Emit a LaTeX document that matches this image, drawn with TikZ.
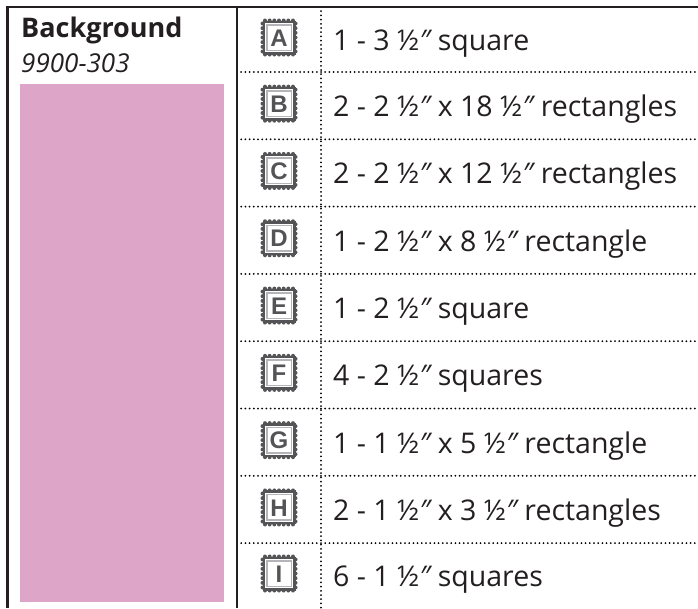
\documentclass[tikz,border=0pt]{standalone}
\usepackage{fontspec}
\setmainfont{Open Sans}
\newfontfamily\badgefont{Liberation Sans}
\newcommand\dprm{{\itshape ″}}
\definecolor{pinkfill}{HTML}{DDA5C7}
\definecolor{stampdark}{HTML}{545457}
\definecolor{stamplight}{HTML}{B4B5B8}
\definecolor{framecol}{HTML}{231F20}
\tikzset{
  frameline/.style={draw=framecol, line width=2.4pt},
  dotline/.style={draw=black, line width=2pt, line cap=round, dash pattern=on 0pt off 4.2pt},
  cuttext/.style={anchor=base west, inner sep=0pt, font=\fontsize{28.5}{28.5}\selectfont, text=framecol},
  stampletter/.style={inner sep=0pt, font=\badgefont\bfseries\fontsize{24}{24}\selectfont, text=stampdark},
  pics/stamp/.style={code={
    \fill[stampdark] (-16.5,-17) rectangle (16.5,17);
    \foreach \u in {-14,-9.33,-4.67,0,4.67,9.33,14}{
      \fill[stampdark] (\u,-17) circle[radius=2pt];
      \fill[stampdark] (\u,17) circle[radius=2pt];}
    \foreach \v in {-14,-9.33,-4.67,0,4.67,9.33,14}{
      \fill[stampdark] (-16.5,\v) circle[radius=2pt];
      \fill[stampdark] (16.5,\v) circle[radius=2pt];}
    \fill[white] (-14,-14.5) rectangle (14,14.5);
    \fill[stamplight] (-13,-13.5) rectangle (13,13.5);
    \fill[white] (-11.5,-12) rectangle (11.5,12);
    \node[stampletter] (-letter) at (0,0.3) {#1};
  }}
}
\begin{document}
\begin{tikzpicture}[x=1pt,y=-1pt]
\useasboundingbox (0,0) rectangle (698,608);
\fill[white] (0,0) rectangle (698,608);
% pink swatch
\fill[pinkfill] (20,84) rectangle (224,601.5);
\node[anchor=base west, inner sep=0pt, font=\bfseries\fontsize{27}{27}\selectfont, text=framecol] (title) at (21,37) {Background};
\node[anchor=base west, inner sep=0pt, font=\itshape\fontsize{26}{26}\selectfont, text=framecol] (code) at (21,72) {9900-303};
% dotted separators
\foreach \k in {0,...,7}{
  \coordinate (sl\k) at (237,72+67.3*\k);
  \coordinate (sr\k) at (698,72+67.3*\k);
  \draw[dotline] (sl\k) -- (sr\k);
}
\coordinate (vt) at (321,7);
\coordinate (vb) at (321,608);
\draw[dotline] (vt) -- (vb);
% frame
\coordinate (tl) at (7.5,7);
\coordinate (tr) at (698,7);
\coordinate (bl) at (7.5,608);
\coordinate (mt) at (237,7);
\coordinate (mb) at (237,608);
\draw[frameline] (bl) -- (tl) -- (tr);
\draw[frameline, line width=2pt] (mt) -- (mb);
% rows
\foreach \L/\T [count=\i from 0] in {
  A/{1 - 3 ½\dprm\ square},
  B/{2 - 2 ½\dprm\ x 18 ½\dprm\ rectangles},
  C/{2 - 2 ½\dprm\ x 12 ½\dprm\ rectangles},
  D/{1 - 2 ½\dprm\ x 8 ½\dprm\ rectangle},
  E/{1 - 2 ½\dprm\ square},
  F/{4 - 2 ½\dprm\ squares},
  G/{1 - 1 ½\dprm\ x 5 ½\dprm\ rectangle},
  H/{2 - 1 ½\dprm\ x 3 ½\dprm\ rectangles},
  I/{6 - 1 ½\dprm\ squares}}{
  \pgfmathsetmacro{\yc}{\i==0 ? 39.5 : (\i==8 ? 575.5 : 72+67.3*(\i-0.5))}
  \pic (badge\L) at (279,\yc-2) {stamp=\L};
  \node[cuttext] (text\L) at (333,\yc+11) {\T};
}
\end{tikzpicture}
\end{document}
